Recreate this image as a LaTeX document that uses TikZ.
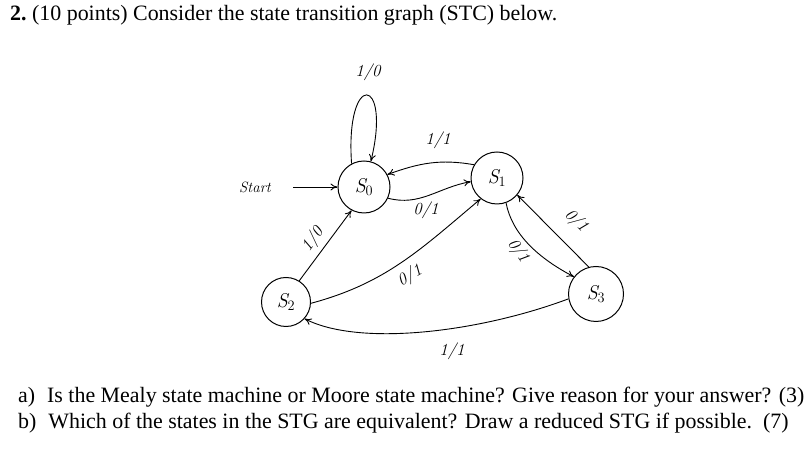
\documentclass[tikz,border=0pt]{standalone}
\usepackage{fontspec}
\setmainfont{Liberation Serif}
\usetikzlibrary{arrows.meta}
\newfontfamily\handfont{Latin Modern Roman}
\begin{document}
\begin{tikzpicture}[x=1bp,y=1bp,
  stnode/.style={draw, circle, minimum size=52bp, inner sep=0pt, line width=1pt, font=\handfont\itshape\fontsize{20}{20}\selectfont},
  arr/.style={-{To[length=7pt,width=7pt]}, line width=0.9pt},
  lbl/.style={font=\handfont\itshape\fontsize{17}{17}\selectfont, inner sep=0pt},
  qtext/.style={anchor=base west, inner sep=0pt, font=\fontsize{22}{24}\selectfont}]
\useasboundingbox (0,0) rectangle (812,462);
% question text
\node[qtext] (title) at (10,441) {\textbf{2.}\ (10 points) Consider the state transition graph (STC) below.};
\node[qtext] (qa) at (18,59) {a)\hspace{12pt}Is the Mealy state machine or Moore state machine? Give reason for your answer? (3)};
\node[qtext] (qb) at (18,33) {b)\hspace{12pt}Which of the states in the STG are equivalent? Draw a reduced STG if possible.\ \ (7)};
% states
\node[stnode] (S0) at (364,275) {S$_0$};
\node[stnode] (S1) at (497,284) {S$_1$};
\node[stnode, minimum size=49bp] (S2) at (286,160) {S$_2$};
\node[stnode, minimum size=55bp] (S3) at (596,168) {S$_3$};
% start
\node[lbl, font=\handfont\itshape\fontsize{15}{15}\selectfont] (start) at (255,275) {Start};
\coordinate (startend) at (293,275);
\draw[arr] (startend) -- (S0.west);
% self loop
\draw[arr] (S0.118) .. controls (345,392) and (392,387) .. (S0.75);
\node[lbl] (l00) at (368,390) {1/0};
% S1 -> S0 upper
\draw[arr] (S1.150) to[out=170, in=20] (S0.28);
\node[lbl] (l10) at (438,322) {1/1};
% S0 -> S1 lower
\draw[arr] (S0.-25) to[out=-15, in=190] (S1.188);
\node[lbl] (l01) at (426,252) {0/1};
% S2 -> S0
\draw[arr] (S2.58) -- (S0.-118);
\node[lbl, rotate=55] (l20) at (313,222) {1/0};
% S2 -> S1
\draw[arr] (S2.-3) to[out=15, in=-140] (S1.-128);
\node[lbl, rotate=30] (l21) at (410,186) {0/1};
% S1 -> S3 curve
\draw[arr] (S1.-70) .. controls (512,228) and (538,204) .. (S3.142);
\node[lbl, rotate=-55] (l13) at (518,211) {0/1};
% S3 -> S1 straight
\draw[arr] (S3.105) -- (S1.-40);
\node[lbl, rotate=-45] (l31) at (576,241) {0/1};
% S3 -> S2 bottom
\draw[arr] (S3.190) .. controls (480,130) and (360,115) .. (S2.-42);
\node[lbl] (l32) at (452,111) {1/1};
\end{tikzpicture}
\end{document}
